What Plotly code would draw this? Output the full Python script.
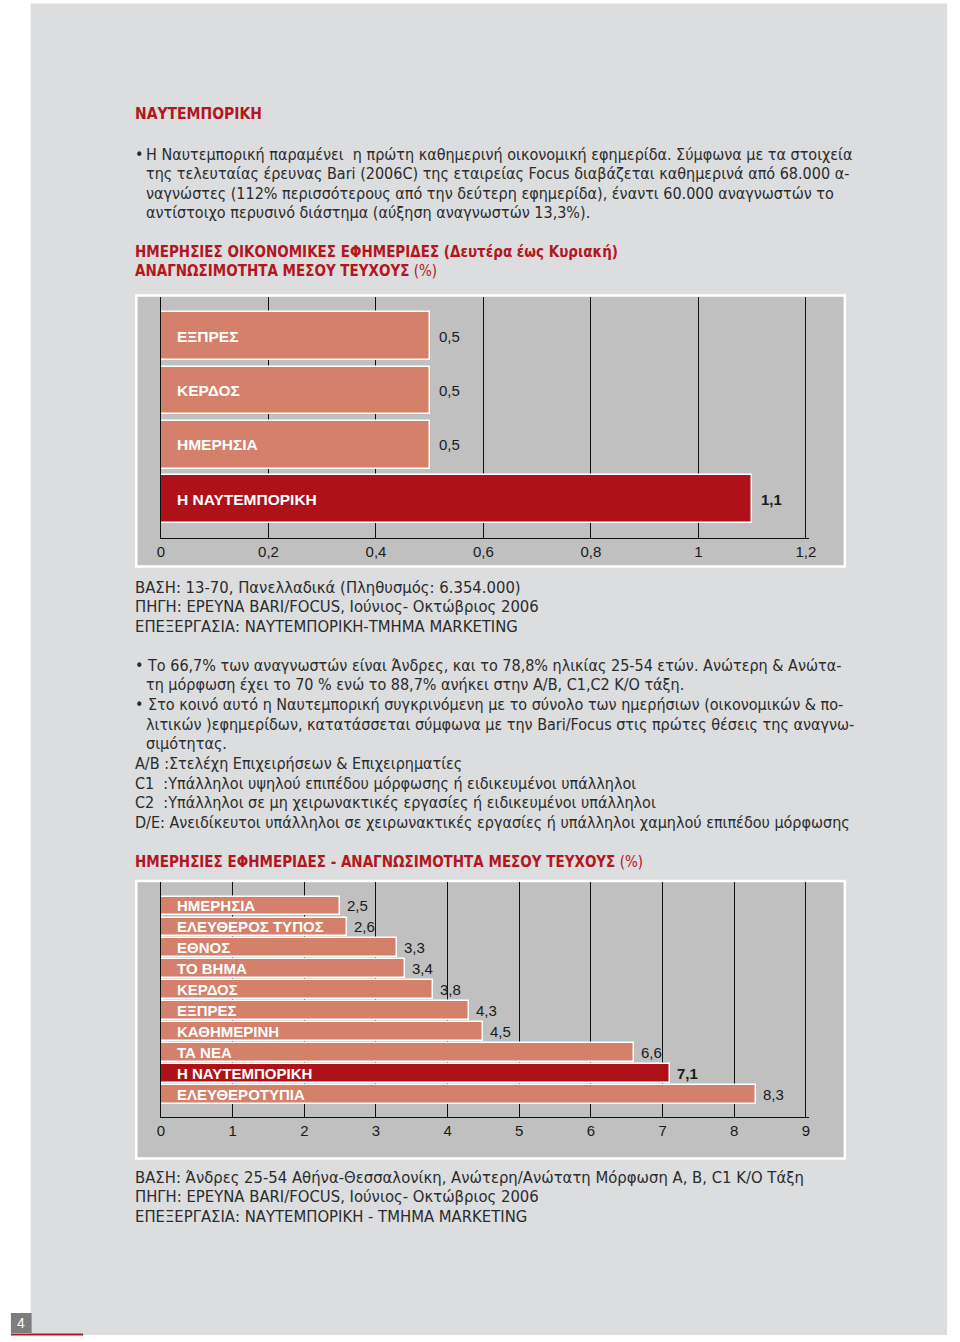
import plotly.graph_objects as go

W, H = 960, 1342

# ---------------- data ----------------
chart1_categories = ["ΕΞΠΡΕΣ", "ΚΕΡΔΟΣ", "ΗΜΕΡΗΣΙΑ", "Η ΝΑΥΤΕΜΠΟΡΙΚΗ"]
chart1_values = [0.5, 0.5, 0.5, 1.1]
chart1_ticks = [0, 0.2, 0.4, 0.6, 0.8, 1, 1.2]
chart1_ticklabels = ["0", "0,2", "0,4", "0,6", "0,8", "1", "1,2"]

chart2_categories = ["ΗΜΕΡΗΣΙΑ", "ΕΛΕΥΘΕΡΟΣ ΤΥΠΟΣ", "ΕΘΝΟΣ", "ΤΟ ΒΗΜΑ", "ΚΕΡΔΟΣ",
                     "ΕΞΠΡΕΣ", "ΚΑΘΗΜΕΡΙΝΗ", "ΤΑ ΝΕΑ", "Η ΝΑΥΤΕΜΠΟΡΙΚΗ", "ΕΛΕΥΘΕΡΟΤΥΠΙΑ"]
chart2_values = [2.5, 2.6, 3.3, 3.4, 3.8, 4.3, 4.5, 6.6, 7.1, 8.3]
chart2_ticks = [0, 1, 2, 3, 4, 5, 6, 7, 8, 9]
chart2_ticklabels = ["0", "1", "2", "3", "4", "5", "6", "7", "8", "9"]

highlight = "Η ΝΑΥΤΕΜΠΟΡΙΚΗ"

# ---------------- styles ----------------
SALMON = "#d4806a"
DARK_RED = "#ae1218"
PANEL = "#dcdddf"
PLOTBG = "#c0c0c0"
TITLE_RED = "#b3161d"
TEXT = "#2b2b2b"
BODY_FONT = "Liberation Sans Narrow, DejaVu Sans Condensed, Liberation Sans, sans-serif"
BAR_FONT = "Liberation Sans, Arial, sans-serif"


def px(x):
    return x / W


def py(y):
    return 1 - y / H


def fmt(v):
    return f"{v:.1f}".replace(".", ",")


fig = go.Figure()

for cats, vals, xa, ya, w in [
    (chart1_categories, chart1_values, "x", "y", 0.88),
    (chart2_categories, chart2_values, "x2", "y2", 0.9),
]:
    fig.add_trace(go.Bar(
        x=vals, y=cats, orientation="h", width=w,
        marker=dict(color=[DARK_RED if c == highlight else SALMON for c in cats],
                    line=dict(color="white", width=1.5)),
        xaxis=xa, yaxis=ya, hoverinfo="skip", showlegend=False,
    ))

annotations = []


def txt(x, y, s, size=16, color=TEXT, family=BODY_FONT):
    annotations.append(dict(
        x=px(x), y=py(y), xref="paper", yref="paper", text=s, showarrow=False,
        xanchor="left", yanchor="middle", font=dict(size=size, color=color, family=family),
    ))


# bar labels and values
for cats, vals, xa, ya, fs, vshift in [
    (chart1_categories, chart1_values, "x", "y", 15.5, 7),
    (chart2_categories, chart2_values, "x2", "y2", 15, 5),
]:
    for c, v in zip(cats, vals):
        annotations.append(dict(x=0, y=c, xref=xa, yref=ya, text=f"<b>{c}</b>",
                                showarrow=False, xanchor="left", yanchor="middle",
                                xshift=14, font=dict(size=fs, color="white", family=BAR_FONT)))
        label = f"<b>{fmt(v)}</b>" if c == highlight else fmt(v)
        annotations.append(dict(x=v, y=c, xref=xa, yref=ya, text=label,
                                showarrow=False, xanchor="left", yanchor="middle",
                                xshift=vshift, font=dict(size=15, color="#1a1a1a", family=BAR_FONT)))

# page texts
txt(131, 114, "<b>ΝΑΥΤΕΜΠΟΡΙΚΗ</b>", 15.5, TITLE_RED)

txt(131, 154, "•", 16)
body1 = [
    "Η Ναυτεμπορική παραμένει  η πρώτη καθημερινή οικονομική εφημερίδα. Σύμφωνα με τα στοιχεία",
    "της τελευταίας έρευνας Bari (2006C) της εταιρείας Focus διαβάζεται καθημερινά από 68.000 α-",
    "ναγνώστες (112% περισσότερους από την δεύτερη εφημερίδα), έναντι 60.000 αναγνωστών το",
    "αντίστοιχο περυσινό διάστημα (αύξηση αναγνωστών 13,3%).",
]
for i, line in enumerate(body1):
    txt(142, 154 + i * 19.6, line, 16)

txt(131, 252, "<b>ΗΜΕΡΗΣΙΕΣ ΟΙΚΟΝΟΜΙΚΕΣ ΕΦΗΜΕΡΙΔΕΣ (Δευτέρα έως Κυριακή)</b>", 15, TITLE_RED)
txt(131, 271, "<b>ΑΝΑΓΝΩΣΙΜΟΤΗΤΑ ΜΕΣΟΥ ΤΕΥΧΟΥΣ</b> (%)", 15, TITLE_RED)

src1 = [
    "ΒΑΣΗ: 13-70, Πανελλαδικά (Πληθυσμός: 6.354.000)",
    "ΠΗΓΗ: ΕΡΕΥΝΑ BARI/FOCUS, Ιούνιος- Οκτώβριος 2006",
    "ΕΠΕΞΕΡΓΑΣΙΑ: ΝΑΥΤΕΜΠΟΡΙΚΗ-ΤΜΗΜΑ MARKETING",
]
for i, line in enumerate(src1):
    txt(131, 587 + i * 19.5, line, 16.5)

body2 = [
    (131, "• Το 66,7% των αναγνωστών είναι Άνδρες, και το 78,8% ηλικίας 25-54 ετών. Ανώτερη & Ανώτα-"),
    (142, "τη μόρφωση έχει το 70 % ενώ το 88,7% ανήκει στην Α/Β, C1,C2 Κ/Ο τάξη."),
    (131, "• Στο κοινό αυτό η Ναυτεμπορική συγκρινόμενη με το σύνολο των ημερήσιων (οικονομικών & πο-"),
    (142, "λιτικών )εφημερίδων, κατατάσσεται σύμφωνα με την Bari/Focus στις πρώτες θέσεις της αναγνω-"),
    (142, "σιμότητας."),
    (131, "A/B :Στελέχη Επιχειρήσεων & Επιχειρηματίες"),
    (131, "C1\u00a0\u00a0:Υπάλληλοι υψηλού επιπέδου μόρφωσης ή ειδικευμένοι υπάλληλοι"),
    (131, "C2\u00a0\u00a0:Υπάλληλοι σε μη χειρωνακτικές εργασίες ή ειδικευμένοι υπάλληλοι"),
    (131, "D/E: Ανειδίκευτοι υπάλληλοι σε χειρωνακτικές εργασίες ή υπάλληλοι χαμηλού επιπέδου μόρφωσης"),
]
for i, (x, line) in enumerate(body2):
    txt(x, 665 + i * 19.7, line, 16)

txt(131, 862, "<b>ΗΜΕΡΗΣΙΕΣ ΕΦΗΜΕΡΙΔΕΣ - ΑΝΑΓΝΩΣΙΜΟΤΗΤΑ ΜΕΣΟΥ ΤΕΥΧΟΥΣ</b> (%)", 15, TITLE_RED)

src2 = [
    "ΒΑΣΗ: Άνδρες 25-54 Αθήνα-Θεσσαλονίκη, Ανώτερη/Ανώτατη Μόρφωση Α, Β, C1 Κ/Ο Τάξη",
    "ΠΗΓΗ: ΕΡΕΥΝΑ BARI/FOCUS, Ιούνιος- Οκτώβριος 2006",
    "ΕΠΕΞΕΡΓΑΣΙΑ: ΝΑΥΤΕΜΠΟΡΙΚΗ - ΤΜΗΜΑ MARKETING",
]
for i, line in enumerate(src2):
    txt(131, 1177 + i * 19.8, line, 16.5)

# page number
annotations.append(dict(x=px(17.5), y=py(1323), xref="paper", yref="paper", text="4",
                        showarrow=False, xanchor="center", yanchor="middle",
                        font=dict(size=14, color="white", family=BAR_FONT)))

shapes = [
    dict(type="rect", xref="paper", yref="paper", x0=px(27), x1=px(955), y0=py(1335), y1=py(3.5),
         fillcolor=PANEL, line=dict(width=0), layer="below"),
    dict(type="rect", xref="paper", yref="paper", x0=px(134), x1=px(851.5), y0=py(566.5), y1=py(295.5),
         fillcolor=PLOTBG, line=dict(color="white", width=2.5), layer="below"),
    dict(type="rect", xref="paper", yref="paper", x0=px(134), x1=px(851.5), y0=py(1158.5), y1=py(881),
         fillcolor=PLOTBG, line=dict(color="white", width=2.5), layer="below"),
    dict(type="rect", xref="paper", yref="paper", x0=px(7), x1=px(28), y0=py(1333), y1=py(1313),
         fillcolor="#7d7d7f", line=dict(width=0), layer="below"),
    dict(type="line", xref="paper", yref="paper", x0=px(7), x1=px(80), y0=py(1334.5), y1=py(1334.5),
         line=dict(color=TITLE_RED, width=2)),
]

axis_common = dict(showgrid=True, gridcolor="#111111", gridwidth=1, zeroline=False,
                   showline=True, linecolor="#111111", linewidth=1, ticks="",
                   tickfont=dict(size=15, color="#1a1a1a", family=BAR_FONT), fixedrange=True)
yaxis_common = dict(type="category", showticklabels=False, showgrid=False, zeroline=False,
                    showline=True, linecolor="#111111", linewidth=1, ticks="", fixedrange=True)

# scale: 0 -> x=159 px, 1.2 -> 812 px (chart 1); 9 -> 812 px (chart 2)
c1_end = 1.205
c2_end = 9.04
c1_px_end = 159 + c1_end * (812 - 159) / 1.2
c2_px_end = 159 + c2_end * (812 - 159) / 9

fig.update_layout(
    width=W, height=H, margin=dict(l=0, r=0, t=0, b=0),
    paper_bgcolor="white", plot_bgcolor="rgba(0,0,0,0)",
    bargap=0, showlegend=False,
    xaxis=dict(domain=[px(159), px(c1_px_end)], range=[0, c1_end], tickvals=chart1_ticks,
               ticktext=chart1_ticklabels, anchor="y", **axis_common),
    yaxis=dict(domain=[py(538), py(297)], categoryarray=chart1_categories,
               categoryorder="array", range=[3.716, -0.722], anchor="x", **yaxis_common),
    xaxis2=dict(domain=[px(159), px(c2_px_end)], range=[0, c2_end], tickvals=chart2_ticks,
                ticktext=chart2_ticklabels, anchor="y2", **axis_common),
    yaxis2=dict(domain=[py(1117), py(882)], categoryarray=chart2_categories,
                categoryorder="array", range=[10.08, -1.146], anchor="x2", **yaxis_common),
    annotations=annotations,
    shapes=shapes,
)

fig.write_html("out.html", config={"displayModeBar": False},
               post_script="document.body.style.margin='0';document.body.style.overflow='hidden';")
